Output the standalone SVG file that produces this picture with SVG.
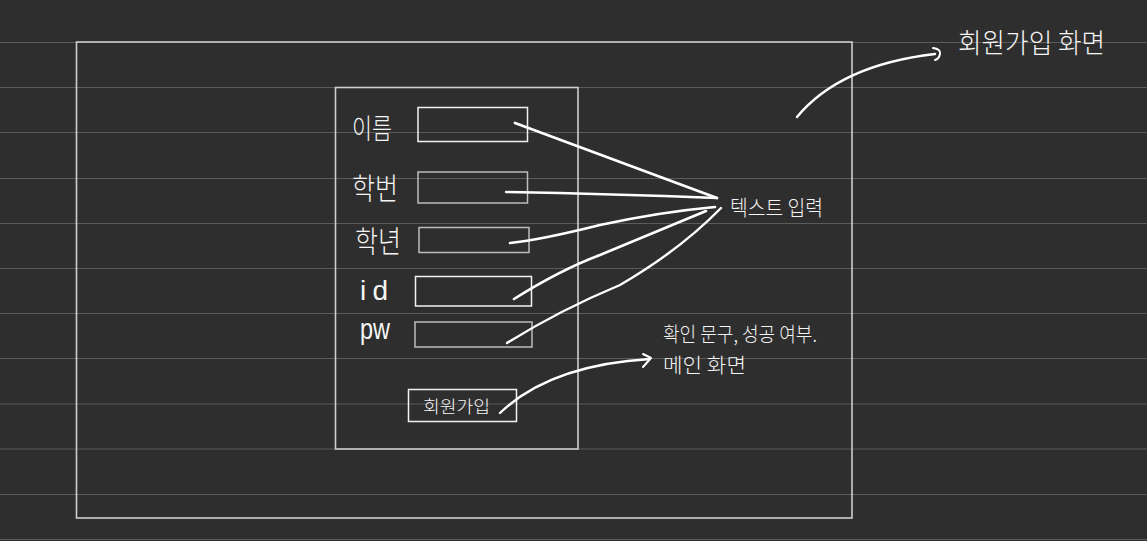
<svg xmlns="http://www.w3.org/2000/svg" width="1147" height="541" viewBox="0 0 1147 541">
<style>
.rule{stroke:#5b5b5b;stroke-width:1.2}
.frame{fill:none;stroke:#cdcdcd;stroke-width:1.6}
.box{fill:none;stroke:#bdbdbd;stroke-width:1.5}
.boxw{fill:none;stroke:#f2f2f2;stroke-width:1.5}
.hand{font-family:"Noto Sans CJK KR","Noto Sans",sans-serif;fill:#f5f5f5;font-weight:300}
.lat{font-family:"Liberation Sans","DejaVu Sans",sans-serif;fill:#f5f5f5;font-weight:300}
.ink{fill:none;stroke:#ffffff;stroke-linecap:round;stroke-linejoin:round}
</style>
<rect x="0" y="0" width="1147" height="541" fill="#2e2e2e"/>
<g id="ruled-lines">
<line class="rule" x1="0" y1="42.5" x2="1147" y2="42.5"/>
<line class="rule" x1="0" y1="87.5" x2="1147" y2="87.5"/>
<line class="rule" x1="0" y1="132.5" x2="1147" y2="132.5"/>
<line class="rule" x1="0" y1="178.5" x2="1147" y2="178.5"/>
<line class="rule" x1="0" y1="223.5" x2="1147" y2="223.5"/>
<line class="rule" x1="0" y1="268.5" x2="1147" y2="268.5"/>
<line class="rule" x1="0" y1="313.5" x2="1147" y2="313.5"/>
<line class="rule" x1="0" y1="358.5" x2="1147" y2="358.5"/>
<line class="rule" x1="0" y1="404" x2="1147" y2="404"/>
<line class="rule" x1="0" y1="449" x2="1147" y2="449"/>
<line class="rule" x1="0" y1="494.5" x2="1147" y2="494.5"/>
<line class="rule" x1="0" y1="539.5" x2="1147" y2="539.5"/>
</g>
<g id="screen-frame">
<rect class="frame" x="76.5" y="42" width="775.5" height="476"/>
</g>
<g id="form-panel">
<rect class="frame" x="335.5" y="87.5" width="242.5" height="361.5" stroke="#e0e0e0"/>
</g>
<g id="field-name">
<text class="hand" x="352" y="139" font-size="28" textLength="40" lengthAdjust="spacingAndGlyphs">이름</text>
<rect class="boxw" x="418" y="107.5" width="109.5" height="34"/>
</g>
<g id="field-student-id">
<text class="hand" x="352" y="199" font-size="30" textLength="46" lengthAdjust="spacingAndGlyphs">학번</text>
<rect class="box" x="418" y="172" width="109.5" height="31"/>
</g>
<g id="field-grade">
<text class="hand" x="355" y="252" font-size="30" textLength="46" lengthAdjust="spacingAndGlyphs">학년</text>
<rect class="box" x="419" y="227.5" width="110" height="25"/>
</g>
<g id="field-id">
<text class="lat" x="360" y="300" font-size="28" textLength="28" lengthAdjust="spacing">id</text>
<rect class="boxw" x="415.5" y="276.5" width="116" height="29.5"/>
</g>
<g id="field-pw">
<text class="lat" x="360" y="339" font-size="30" textLength="30" lengthAdjust="spacingAndGlyphs">pw</text>
<rect class="box" x="415" y="322" width="117" height="25"/>
</g>
<g id="signup-button">
<rect class="boxw" x="408.5" y="389.5" width="108" height="32"/>
<text class="hand" x="423" y="413" font-size="17" textLength="67" lengthAdjust="spacingAndGlyphs">회원가입</text>
</g>
<g id="label-screen">
<text class="hand" x="958" y="53" font-size="27" textLength="147" lengthAdjust="spacingAndGlyphs">회원가입 화면</text>
</g>
<g id="label-text-input">
<text class="hand" x="730" y="215" font-size="21" textLength="93" lengthAdjust="spacingAndGlyphs">텍스트 입력</text>
</g>
<g id="label-result">
<text class="hand" x="663" y="342" font-size="20" textLength="154" lengthAdjust="spacingAndGlyphs">확인 문구, 성공 여부.</text>
<text class="hand" x="663" y="373" font-size="20" textLength="83" lengthAdjust="spacingAndGlyphs">메인 화면</text>
</g>
<g id="connectors">
<path class="ink" stroke-width="2.8" d="M515 123 Q610 158 717 198"/>
<path class="ink" stroke-width="2.4" d="M506 192 Q610 194 717 198"/>
<path class="ink" stroke-width="2.6" d="M510 243 Q540 240 600 225 Q660 212 715 207"/>
<path class="ink" stroke-width="2.6" d="M514 299 Q560 270 600 255 Q660 230 706 211"/>
<path class="ink" stroke-width="2.4" d="M507 343 Q560 310 620 285 Q680 250 721 208"/>
<path class="ink" stroke-width="2.4" d="M797 117 Q840 65 935 54"/>
<path class="ink" stroke-width="2" d="M933 48 Q941 49 940 54 Q939 59 935 60"/>
<path class="ink" stroke-width="2.4" d="M500 413 Q550 365 650 359"/>
<path class="ink" stroke-width="2" d="M643 354 L651 358 L643 367"/>
</g>
</svg>
